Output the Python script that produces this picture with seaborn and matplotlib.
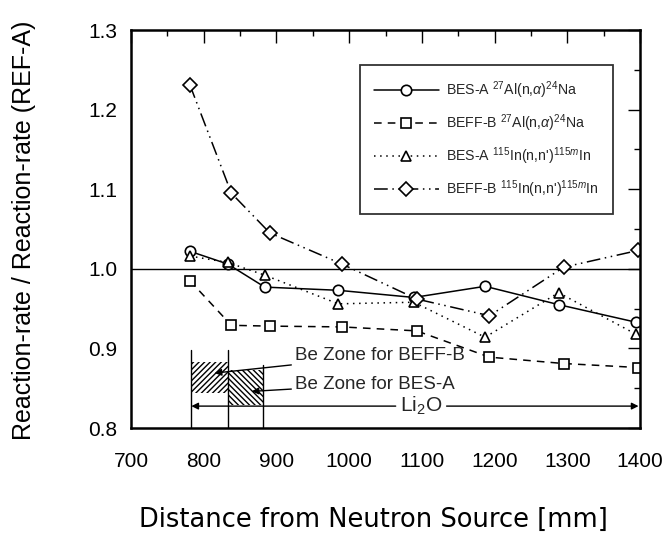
import matplotlib
matplotlib.use("Agg")
import matplotlib.pyplot as plt
import seaborn as sns
import pandas as pd
from matplotlib.ticker import MultipleLocator
from matplotlib.patches import Rectangle

sns.set_theme(style="white")
plt.rcParams['font.family'] = ['Liberation Sans', 'DejaVu Sans']
plt.rcParams['mathtext.fontset'] = 'custom'
plt.rcParams['mathtext.rm'] = 'Liberation Sans'
plt.rcParams['mathtext.it'] = 'Liberation Sans:italic'

# data
x_besa = [781, 833, 884, 985, 1089, 1187, 1288, 1394]
x_beffb = [781, 838, 891, 990, 1093, 1193, 1295, 1397]
besa_al = [1.022, 1.006, 0.977, 0.973, 0.964, 0.978, 0.955, 0.933]
beffb_al = [0.985, 0.929, 0.928, 0.927, 0.922, 0.889, 0.881, 0.876]
besa_in = [1.016, 1.008, 0.992, 0.956, 0.958, 0.914, 0.970, 0.918]
beffb_in = [1.231, 1.095, 1.045, 1.006, 0.962, 0.941, 1.002, 1.023]
labels = [r"BES-A $^{27}$Al(n,$\alpha$)$^{24}$Na",
          r"BEFF-B $^{27}$Al(n,$\alpha$)$^{24}$Na",
          r"BES-A $^{115}$In(n,n')$^{115m}$In",
          r"BEFF-B $^{115}$In(n,n')$^{115m}$In"]
zone_beffb = (783, 833)
zone_besa = (833, 881)
x_ticks = [700, 800, 900, 1000, 1100, 1200, 1300, 1400]
y_ticks = [0.8, 0.9, 1.0, 1.1, 1.2, 1.3]

fig = plt.figure(figsize=(6.69, 5.41), dpi=100)
ax = fig.add_axes([131/669, 1-428/541, (640-131)/669, (428-30)/541])

series = [
    (x_besa, besa_al, 'o', '-', labels[0], 7.5),
    (x_beffb, beffb_al, 's', (0, (5, 4)), labels[1], 7),
    (x_besa, besa_in, '^', (0, (1, 3)), labels[2], 7),
    (x_beffb, beffb_in, 'D', (0, (9, 3, 1, 3, 1, 3)), labels[3], 7),
]
for xs, ys, mk, ls, lab, ms in series:
    df = pd.DataFrame({'x': xs, 'y': ys})
    sns.lineplot(data=df, x='x', y='y', ax=ax, sort=False, color='black',
                 linewidth=1.1, linestyle=ls, marker=mk, markersize=ms,
                 markerfacecolor='white', markeredgecolor='black', markeredgewidth=1.2,
                 label=lab)

ax.axhline(1.0, color='black', linewidth=1.0, zorder=1)

# Be zones
ax.add_patch(Rectangle((zone_beffb[0], 0.844), zone_beffb[1]-zone_beffb[0], 0.8825-0.844,
                       facecolor='none', edgecolor='black', hatch='//////', linewidth=0))
ax.add_patch(Rectangle((zone_besa[0], 0.829), zone_besa[1]-zone_besa[0], 0.8725-0.829,
                       facecolor='none', edgecolor='black', hatch='\\\\\\\\\\\\', linewidth=0))
ax.plot([zone_beffb[0]]*2, [0.8, 0.8975], color='black', lw=1.0)
ax.plot([zone_beffb[1]]*2, [0.8, 0.8975], color='black', lw=1.0)
ax.plot([zone_besa[1]]*2, [0.8, 0.879], color='black', lw=1.0)

ax.annotate("Be Zone for BEFF-B", xy=(815, 0.869), xytext=(925, 0.891),
            fontsize=13.5, va='center', ha='left',
            arrowprops=dict(arrowstyle='-|>', color='black', lw=1.0, mutation_scale=10,
                            shrinkA=0, shrinkB=0))
ax.annotate("Be Zone for BES-A", xy=(866, 0.846), xytext=(925, 0.855),
            fontsize=13.5, va='center', ha='left',
            arrowprops=dict(arrowstyle='-|>', color='black', lw=1.0, mutation_scale=10,
                            shrinkA=0, shrinkB=0))
# Li2O arrow
ax.annotate("", xy=(783, 0.8275), xytext=(1064, 0.8275),
            arrowprops=dict(arrowstyle='-|>', color='black', lw=1.0, mutation_scale=10,
                            shrinkA=0, shrinkB=0))
ax.annotate("", xy=(1398, 0.8275), xytext=(1134, 0.8275),
            arrowprops=dict(arrowstyle='-|>', color='black', lw=1.0, mutation_scale=10,
                            shrinkA=0, shrinkB=0))
ax.text(1099, 0.8275, r"Li$_2$O", fontsize=15, ha='center', va='center')

ax.set_xlim(700, 1400)
ax.set_ylim(0.8, 1.3)
ax.set_xticks(x_ticks)
ax.set_yticks(y_ticks)
ax.set_yticklabels([f"{v:.1f}" for v in y_ticks])
ax.xaxis.set_minor_locator(MultipleLocator(50))
ax.yaxis.set_minor_locator(MultipleLocator(0.05))
ax.tick_params(which='both', direction='in', top=True, right=True, colors='black',
               labelsize=15, width=1.0)
ax.tick_params(which='major', length=9)
ax.tick_params(which='minor', length=4)
ax.tick_params(axis='y', which='major', pad=10)
ax.tick_params(axis='x', which='major', pad=17)
for s in ax.spines.values():
    s.set_color('black')
    s.set_linewidth(1.8)

ax.set_xlabel("Distance from Neutron Source [mm]", fontsize=18.5, family='DejaVu Sans',
              color='black')
ax.xaxis.set_label_coords(0.477, -0.198)
ax.set_ylabel("Reaction-rate / Reaction-rate (REF-A)", fontsize=18, color='black')
ax.yaxis.set_label_coords(-0.187, 0.497)

leg = ax.legend(loc='upper right', bbox_to_anchor=(613/669, 1-65/541),
                bbox_transform=fig.transFigure, frameon=True, fancybox=False,
                edgecolor='black', fontsize=10.2, handlelength=4.6, labelspacing=0.8,
                borderpad=1.0, handletextpad=0.5, borderaxespad=0)
leg.get_frame().set_linewidth(1.3)

fig.savefig("out.png", dpi=100)
